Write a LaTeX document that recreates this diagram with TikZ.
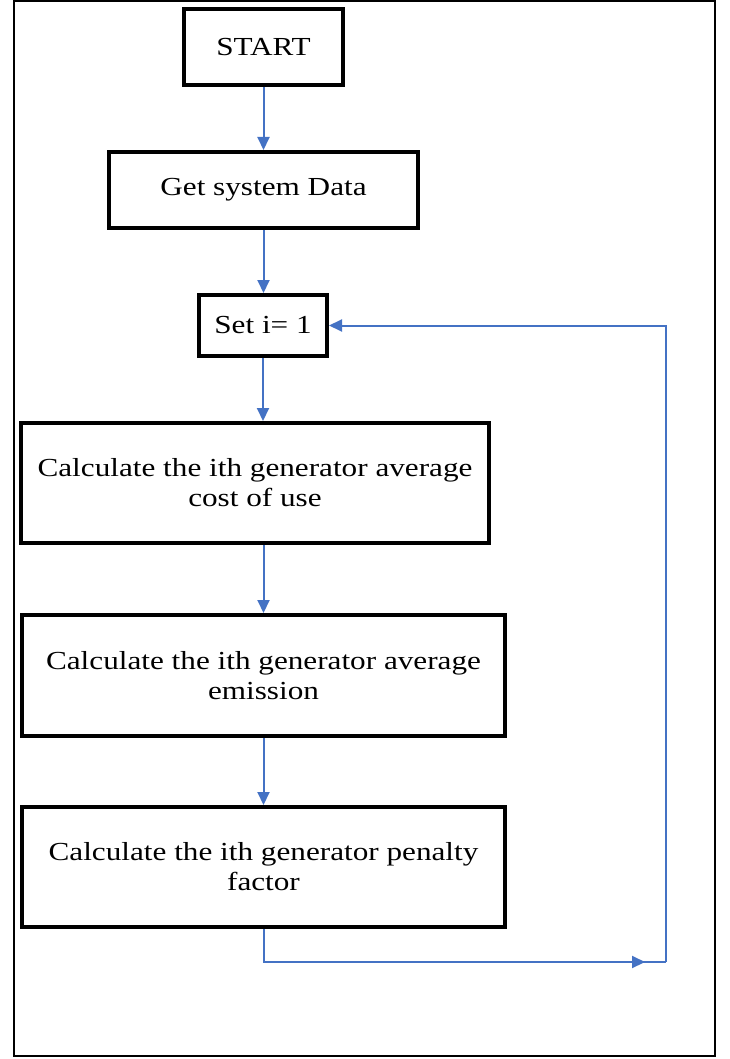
\documentclass[tikz,border=0pt]{standalone}
\usepackage{fontspec}
\setmainfont{Liberation Serif}[FakeStretch=1.2]
\usetikzlibrary{arrows.meta}
\definecolor{flowblue}{HTML}{4472C4}
\tikzset{
  stepbox/.style={draw=black, line width=4pt, rectangle, inner sep=0pt,
    align=center, font=\fontsize{26}{30}\selectfont},
  flow/.style={draw=flowblue, line width=2pt,
    -{Triangle[length=13pt,width=12pt]}},
  plainflow/.style={draw=flowblue, line width=2pt}
}
\begin{document}
\begin{tikzpicture}[x=1pt,y=1pt]
  \useasboundingbox (0,0) rectangle (729,-1059);
  % outer frame
  \draw[line width=2pt] (14,-1) rectangle (715,-1056);

  % process boxes
  \node[stepbox, minimum width=159, minimum height=76] (start) at (263.5,-47) {START};
  \node[stepbox, minimum width=309, minimum height=76] (get) at (263.5,-190) {Get system Data};
  \node[stepbox, minimum width=128, minimum height=61] (set) at (263,-325.5) {Set i= 1};
  \node[stepbox, minimum width=468, minimum height=120] (c1) at (255,-483)
    {Calculate the ith generator average\\cost of use};
  \node[stepbox, minimum width=483, minimum height=121] (c2) at (263.5,-675.5)
    {Calculate the ith generator average\\emission};
  \node[stepbox, minimum width=483, minimum height=120] (c3) at (263.5,-867)
    {Calculate the ith generator penalty\\factor};

  % main flow
  \draw[flow] (start.south) -- (start.south |- get.north);
  \draw[flow] (get.south -| start.south) -- (start.south |- set.north);
  \draw[flow] (set.south) -- (set.south |- c1.north);
  \draw[flow] (c1.south -| c2.north) -- (c2.north);
  \draw[flow] (c2.south) -- (c3.north);

  % loop back to the counter
  \coordinate (tip) at (645,-962);
  \coordinate (turn) at (666,-962);
  \draw[plainflow] ([xshift=-8pt]tip) -- (turn);
  \draw[flow] (c3.south) |- (tip);
  \draw[flow] (turn) |- (set.east);
\end{tikzpicture}
\end{document}
